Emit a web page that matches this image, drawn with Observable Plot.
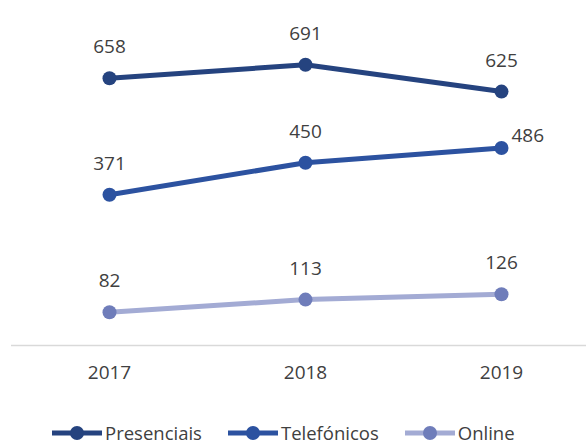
<!DOCTYPE html>
<html><head><meta charset="utf-8">
<script src="https://cdn.jsdelivr.net/npm/d3@7"></script>
<script src="https://cdn.jsdelivr.net/npm/@observablehq/plot@0.6"></script>
<style>
body{margin:0;background:#fff;font-family:"Open Sans",sans-serif;}
#chart svg{display:block;}
#legend{display:flex;justify-content:flex-start;gap:25px;font-size:18.5px;font-weight:400;color:#404040;margin-top:22px;padding-left:51px;height:20px;line-height:20px;}
.item{display:flex;align-items:center;gap:2px;}
</style></head>
<body><div id="chart"></div><div id="legend"></div>
<script>
const years = ["2017","2018","2019"];
const seriesNames = ["Presenciais","Telefónicos","Online"];
const presenciais = [658, 691, 625];
const telefonicos = [371, 450, 486];
const online = [82, 113, 126];
const lineColors = ["#25437f","#2c52a0","#a3abd4"];
const dotColors = ["#25437f","#2c52a0","#6f7dba"];

const values = [presenciais, telefonicos, online];
const data = [];
seriesNames.forEach((s,i)=>years.forEach((y,j)=>data.push({series:s, year:y, value:values[i][j], idx:i, last: s==="Telefónicos" && j===2})));

const plot = Plot.plot({
  width: 586, height: 401,
  marginLeft: 11, marginRight: -13, marginTop: 20, marginBottom: 56,
  style: {fontFamily: "'Open Sans', sans-serif", fontSize: "19px", fontWeight: 400, color: "#404040"},
  x: {type: "point", domain: years, padding: 0.5, label: null, tickSize: 0, tickPadding: 20},
  y: {domain: [0, 800], axis: null},
  marks: [
    Plot.ruleY([0], {stroke: "#d9d9d9", strokeWidth: 1.5}),
    ...seriesNames.map((s,i)=>Plot.line(data.filter(d=>d.series===s), {x:"year", y:"value", stroke: lineColors[i], strokeWidth: 5})),
    ...seriesNames.map((s,i)=>Plot.dot(data.filter(d=>d.series===s), {x:"year", y:"value", r: 7, fill: dotColors[i], stroke: "none"})),
    Plot.text(data.filter(d=>!d.last), {x:"year", y:"value", text: d=>String(d.value), dy: -31, fill: "#404040", fontSize: 19, fontWeight: 400}),
    Plot.text(data.filter(d=>d.last), {x:"year", y:"value", text: d=>String(d.value), dx: 10, dy: -12, textAnchor: "start", fill: "#404040", fontSize: 19, fontWeight: 400})
  ]
});
document.getElementById("chart").appendChild(plot);

const leg = document.getElementById("legend");
seriesNames.forEach((s,i)=>{
  const div = document.createElement("div"); div.className = "item";
  div.innerHTML = `<svg width="52" height="16"><line x1="1" x2="51" y1="8" y2="8" stroke="${lineColors[i]}" stroke-width="5"/><circle cx="26" cy="8" r="7" fill="${dotColors[i]}"/></svg><span>${s}</span>`;
  leg.appendChild(div);
});
</script></body></html>
